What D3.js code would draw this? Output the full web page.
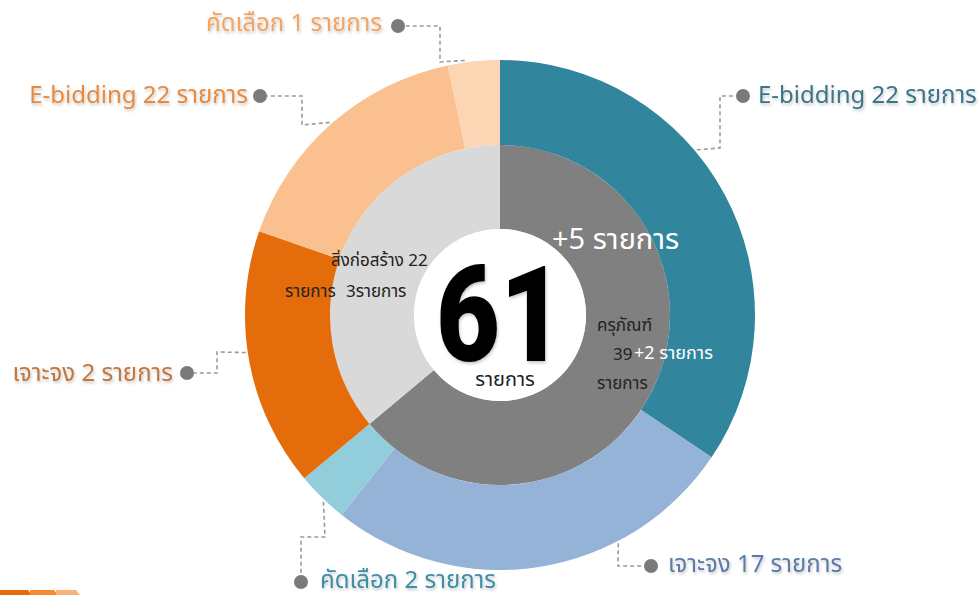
<!DOCTYPE html>
<html>
<head>
<meta charset="utf-8">
<script src="https://cdn.jsdelivr.net/npm/d3@7"></script>
<style>
  html, body { margin: 0; padding: 0; background: #fff; }
  svg { display: block; font-family: "Noto Sans Thai", "Noto Sans", "DejaVu Sans", sans-serif; }
</style>
</head>
<body>
<svg id="chart" width="979" height="595"></svg>
<script>
// ── Data ─────────────────────────────────────────────
const innerCategories = ['ครุภัณฑ์', 'สิ่งก่อสร้าง'];
const innerValues = [39, 22];

const outerCategories = ['E-bidding', 'เจาะจง', 'คัดเลือก', 'เจาะจง', 'E-bidding', 'คัดเลือก'];
const outerValues = [21, 16, 2, 10, 10, 2];
const outerLabels = ['E-bidding 22 รายการ', 'เจาะจง 17 รายการ', 'คัดเลือก 2 รายการ',
  'เจาะจง 2 รายการ', 'E-bidding 22 รายการ', 'คัดเลือก 1 รายการ'];

const totalLabel = '61';
const unitLabel = 'รายการ';

// ── Styles / layout ──────────────────────────────────
const innerColors = ['#808080', '#d9d9d9'];
const outerColors = ['#31859c', '#95b3d7', '#92cddc', '#e46c0a', '#fac090', '#fcd5b5'];
const labelColors = ['#3a7588', '#5b7ba8', '#3d8ea6', '#c0773f', '#e8893c', '#f3a460'];

const CX = 500, CY = 315;
const R_HOLE = 86, R_MID = 170, R_OUT = 255;

// leader lines: angle on the rim, elbow points, dot, label position
const leaders = [
  {angle: 50,    pts: [[720, 148], [720, 96]],  dot: [743, 96],  anchor: 'start', tx: 758, ty: 96},
  {angle: 152.6, pts: [[618, 566]],             dot: [651, 566], anchor: 'start', tx: 668, ty: 565},
  {angle: 223.4, pts: [[325, 537], [301, 537]], dot: [301, 582], anchor: 'start', tx: 320, ty: 581},
  {angle: 261.6, pts: [[217, 352], [217, 373]], dot: [187, 373], anchor: 'end',   tx: 173, ty: 374},
  {angle: 318.5, pts: [[302, 125], [302, 96]],  dot: [260, 96],  anchor: 'end',   tx: 248, ty: 96},
  {angle: 352.1, pts: [[440, 62], [440, 26]],   dot: [398, 26],  anchor: 'end',   tx: 382, ty: 24}
];

const svg = d3.select('#chart');

const defs = svg.append('defs');
const shadow = defs.append('filter').attr('id', 'soft').attr('x', '-10%').attr('y', '-30%')
  .attr('width', '120%').attr('height', '160%');
shadow.append('feDropShadow').attr('dx', 1).attr('dy', 2).attr('stdDeviation', 1.6)
  .attr('flood-color', '#000').attr('flood-opacity', 0.22);

// orange corner strip, bottom left
const strip = svg.append('g');
[['#e46c0a', 0, 32], ['#f38b33', 30, 58], ['#f9b27a', 56, 80]].forEach(([c, x0, x1]) => {
  strip.append('path').attr('d', `M${x0},590 L${x1 - 4},590 L${x1},595 L${x0},595 Z`).attr('fill', c);
});

const g = svg.append('g').attr('transform', `translate(${CX},${CY})`);

const pie = d3.pie().sort(null).startAngle(0).endAngle(2 * Math.PI);
const innerArc = d3.arc().innerRadius(R_HOLE).outerRadius(R_MID);
const outerArc = d3.arc().innerRadius(R_MID).outerRadius(R_OUT);

g.selectAll('.inner')
  .data(pie(innerValues))
  .join('path')
  .attr('class', 'inner')
  .attr('d', innerArc)
  .attr('fill', (d, i) => innerColors[i]);

g.selectAll('.outer')
  .data(pie(outerValues))
  .join('path')
  .attr('class', 'outer')
  .attr('d', outerArc)
  .attr('fill', (d, i) => outerColors[i]);

// white hole
g.append('circle').attr('r', R_HOLE).attr('fill', '#fff');

// ── Leaders ──────────────────────────────────────────
const rim = (deg) => {
  const a = deg * Math.PI / 180;
  return [CX + Math.sin(a) * (R_OUT + 2), CY - Math.cos(a) * (R_OUT + 2)];
};

const line = d3.line();
leaders.forEach((ld, i) => {
  const points = [rim(ld.angle), ...ld.pts, ld.dot];
  svg.append('path')
    .attr('d', line(points))
    .attr('fill', 'none')
    .attr('stroke', '#9a9a9a')
    .attr('stroke-width', 1.6)
    .attr('stroke-dasharray', '4,3');
  svg.append('circle')
    .attr('cx', ld.dot[0]).attr('cy', ld.dot[1]).attr('r', 7)
    .attr('fill', '#7a7a7a');
  svg.append('text')
    .attr('x', ld.tx).attr('y', ld.ty)
    .attr('text-anchor', ld.anchor)
    .attr('dominant-baseline', 'central')
    .attr('font-size', 24)
    .attr('fill', labelColors[i])
    .attr('filter', 'url(#soft)')
    .text(outerLabels[i]);
});

// ── Centre & inner ring texts ────────────────────────
svg.append('text')
  .attr('x', 500).attr('y', 361)
  .attr('text-anchor', 'middle')
  .attr('font-family', 'Roboto, "DejaVu Sans", sans-serif')
  .attr('font-weight', 900)
  .attr('font-size', 134)
  .attr('textLength', 128)
  .attr('lengthAdjust', 'spacingAndGlyphs')
  .attr('fill', '#000')
  .attr('filter', 'url(#soft)')
  .text(totalLabel);

svg.append('text')
  .attr('x', 505).attr('y', 380)
  .attr('text-anchor', 'middle')
  .attr('dominant-baseline', 'central')
  .attr('font-size', 20)
  .attr('fill', '#222')
  .text(unitLabel);

svg.append('text')
  .attr('x', 552).attr('y', 249)
  .attr('font-size', 29)
  .attr('fill', '#fff')
  .text(`+5 ${unitLabel}`);

const darkText = (x, y, s, size = 17, fill = '#222') => svg.append('text')
  .attr('x', x).attr('y', y)
  .attr('dominant-baseline', 'central')
  .attr('font-size', size)
  .attr('fill', fill)
  .text(s);

// ครุภัณฑ์ block
darkText(597, 326, innerCategories[0]);
darkText(613, 355, innerValues[0]);
darkText(634, 353, `+2 ${unitLabel}`, 18, '#fff');
darkText(597, 384, unitLabel);

// สิ่งก่อสร้าง block
darkText(331, 261, `${innerCategories[1]} ${innerValues[1]}`);
darkText(285, 292, unitLabel);
darkText(346, 292, `3${unitLabel}`);
</script>
</body>
</html>
